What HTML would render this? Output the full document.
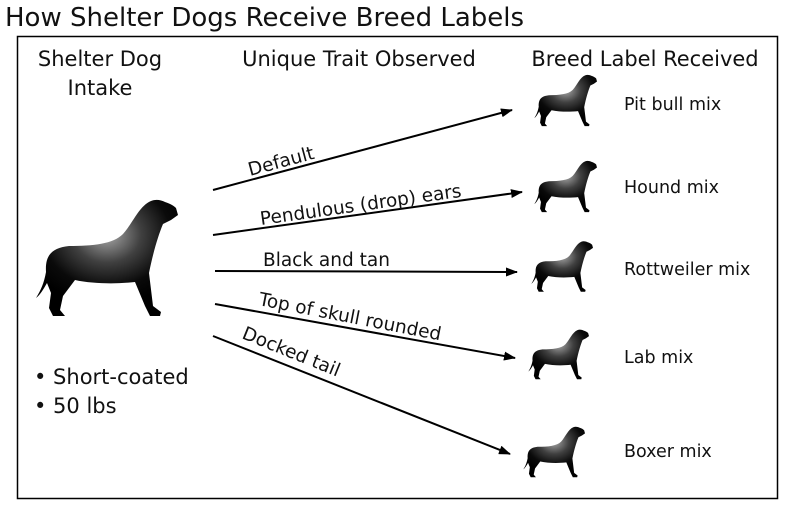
<!DOCTYPE html>
<html><head><meta charset="utf-8"><style>
html,body{margin:0;padding:0;background:#fff;}
svg{display:block;}
text{font-family:"DejaVu Sans","Liberation Sans",sans-serif;fill:#111;}
</style></head><body>
<svg width="800" height="514" viewBox="0 0 800 514" xmlns="http://www.w3.org/2000/svg">
<defs>
<radialGradient id="g" cx="0.5" cy="0.3" r="0.6">
<stop offset="0" stop-color="#a8a8a8"/>
<stop offset="0.4" stop-color="#404040"/>
<stop offset="0.75" stop-color="#0a0a0a"/>
<stop offset="1" stop-color="#000"/>
</radialGradient>
<marker id="ah" markerWidth="12" markerHeight="9" refX="11" refY="4.5" orient="auto" markerUnits="userSpaceOnUse">
<path d="M0,0 L12,4.5 L0,9 Z" fill="#000"/>
</marker>
<symbol id="dog" viewBox="0 0 145 120">
<path fill="url(#g)" d="M132,4 C138,6 141,8 143,10 L145,17 L138,22 L130,26 C125,38 120,55 116,75 L120,108 L128,114 L127,118 L117,118 L112,108 L102,84 C85,86 60,86 42,82 L30,98 L27,112 L32,118 L20,118 L16,110 L18,95 L14,85 C10,92 7,97 3,100 C8,92 11,85 13,74 C12,58 18,50 36,48 C60,48 80,46 90,36 C100,25 106,8 118,3 C123,1 128,2 132,4 Z"/>
</symbol>
</defs>
<text x="5" y="26" font-size="26">How Shelter Dogs Receive Breed Labels</text>
<rect x="17.5" y="36.5" width="760" height="462" fill="none" stroke="#000" stroke-width="1.5"/>
<text x="100" y="66" font-size="21" text-anchor="middle">Shelter Dog</text>
<text x="100" y="95" font-size="21" text-anchor="middle">Intake</text>
<text x="359" y="66" font-size="21" text-anchor="middle">Unique Trait Observed</text>
<text x="645" y="66" font-size="21" text-anchor="middle">Breed Label Received</text>

<use href="#dog" x="33" y="198" width="145" height="120"/>
<text x="34" y="384" font-size="21">• Short-coated</text>
<text x="34" y="413" font-size="21">• 50 lbs</text>

<g stroke="#000" stroke-width="2" fill="none">
<line x1="213" y1="190" x2="512" y2="110" marker-end="url(#ah)"/>
<line x1="213" y1="235" x2="522" y2="192" marker-end="url(#ah)"/>
<line x1="215" y1="271" x2="517" y2="272" marker-end="url(#ah)"/>
<line x1="215" y1="304" x2="515" y2="358" marker-end="url(#ah)"/>
<line x1="213" y1="336" x2="510" y2="454" marker-end="url(#ah)"/>
</g>
<text font-size="18.5" transform="translate(250,176) rotate(-15)">Default</text>
<text font-size="18.5" transform="translate(261,225) rotate(-8)">Pendulous (drop) ears</text>
<text font-size="18.5" transform="translate(263,266)">Black and tan</text>
<text font-size="18.5" transform="translate(258,305) rotate(11)">Top of skull rounded</text>
<text font-size="18.5" transform="translate(241,338) rotate(22)">Docked tail</text>

<use href="#dog" x="533" y="74" width="64" height="53" preserveAspectRatio="none"/>
<use href="#dog" x="533" y="160" width="64" height="53" preserveAspectRatio="none"/>
<use href="#dog" x="530" y="240" width="63" height="53" preserveAspectRatio="none"/>
<use href="#dog" x="527" y="328" width="62" height="53" preserveAspectRatio="none"/>
<use href="#dog" x="522" y="425" width="63" height="54" preserveAspectRatio="none"/>

<text x="624" y="110" font-size="17.5">Pit bull mix</text>
<text x="624" y="193" font-size="17.5">Hound mix</text>
<text x="624" y="275" font-size="17.5">Rottweiler mix</text>
<text x="624" y="363" font-size="17.5">Lab mix</text>
<text x="624" y="457" font-size="17.5">Boxer mix</text>
</svg>
</body></html>
